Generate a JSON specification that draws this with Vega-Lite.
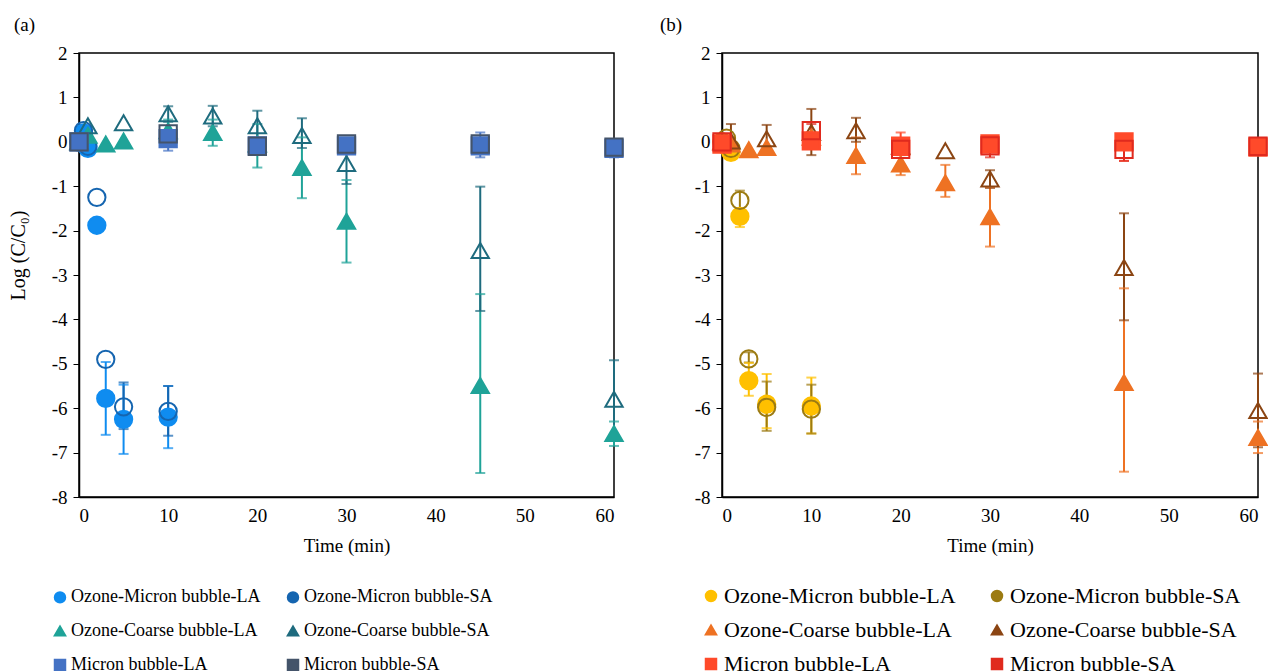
{
  "$schema": "https://vega.github.io/schema/vega-lite/v6.json",
  "padding": {"left": 7, "top": 15, "right": 0, "bottom": 0},
  "background": "white",
  "config": {
    "font": "Liberation Serif",
    "view": {"stroke": "black", "strokeWidth": 1.5},
    "axis": {"grid": false, "domainColor": "black", "domainWidth": 1.5, "tickColor": "black", "labelColor": "black", "titleColor": "black", "labelFont": "Liberation Serif", "titleFont": "Liberation Serif", "labelFontSize": 19, "titleFontSize": 19, "titleFontWeight": "normal"},
    "legend": {"labelFont": "Liberation Serif", "labelColor": "black", "labelLimit": 400, "symbolOpacity": 1},
    "title": {"font": "Liberation Serif", "fontWeight": "normal", "fontSize": 19, "color": "black"}
  },
  "datasets": {
    "d": [
      {"p":"a","s":"Ozone-Micron bubble-LA","t":0,"v":0},
      {"p":"a","s":"Ozone-Micron bubble-LA","t":0.5,"v":0.2},
      {"p":"a","s":"Ozone-Micron bubble-LA","t":1,"v":-0.15},
      {"p":"a","s":"Ozone-Micron bubble-LA","t":2,"v":-1.88},
      {"p":"a","s":"Ozone-Micron bubble-LA","t":3,"v":-5.78,"lo":-6.6,"hi":-4.96},
      {"p":"a","s":"Ozone-Micron bubble-LA","t":5,"v":-6.25,"lo":-7.03,"hi":-5.47},
      {"p":"a","s":"Ozone-Micron bubble-LA","t":10,"v":-6.2,"lo":-6.9,"hi":-5.5},
      {"p":"a","s":"Ozone-Micron bubble-SA","t":0,"v":0},
      {"p":"a","s":"Ozone-Micron bubble-SA","t":0.5,"v":0.25},
      {"p":"a","s":"Ozone-Micron bubble-SA","t":1,"v":-0.1},
      {"p":"a","s":"Ozone-Micron bubble-SA","t":2,"v":-1.25},
      {"p":"a","s":"Ozone-Micron bubble-SA","t":3,"v":-4.9},
      {"p":"a","s":"Ozone-Micron bubble-SA","t":5,"v":-5.97,"lo":-6.47,"hi":-5.42},
      {"p":"a","s":"Ozone-Micron bubble-SA","t":10,"v":-6.07,"lo":-6.62,"hi":-5.5},
      {"p":"a","s":"Ozone-Coarse bubble-LA","t":0,"v":0},
      {"p":"a","s":"Ozone-Coarse bubble-LA","t":1,"v":0.15},
      {"p":"a","s":"Ozone-Coarse bubble-LA","t":3,"v":-0.05},
      {"p":"a","s":"Ozone-Coarse bubble-LA","t":5,"v":0.02},
      {"p":"a","s":"Ozone-Coarse bubble-LA","t":10,"v":0.25,"lo":-0.1,"hi":0.5},
      {"p":"a","s":"Ozone-Coarse bubble-LA","t":15,"v":0.21,"lo":-0.09,"hi":0.5},
      {"p":"a","s":"Ozone-Coarse bubble-LA","t":20,"v":-0.05,"lo":-0.58,"hi":0.4},
      {"p":"a","s":"Ozone-Coarse bubble-LA","t":25,"v":-0.58,"lo":-1.27,"hi":0.1},
      {"p":"a","s":"Ozone-Coarse bubble-LA","t":30,"v":-1.79,"lo":-2.72,"hi":-0.86},
      {"p":"a","s":"Ozone-Coarse bubble-LA","t":45,"v":-5.49,"lo":-7.46,"hi":-3.43},
      {"p":"a","s":"Ozone-Coarse bubble-LA","t":60,"v":-6.57,"lo":-6.85,"hi":-6.3},
      {"p":"a","s":"Ozone-Coarse bubble-SA","t":0,"v":0},
      {"p":"a","s":"Ozone-Coarse bubble-SA","t":1,"v":0.36},
      {"p":"a","s":"Ozone-Coarse bubble-SA","t":5,"v":0.43},
      {"p":"a","s":"Ozone-Coarse bubble-SA","t":10,"v":0.63,"lo":0.45,"hi":0.8},
      {"p":"a","s":"Ozone-Coarse bubble-SA","t":15,"v":0.58,"lo":0.35,"hi":0.81},
      {"p":"a","s":"Ozone-Coarse bubble-SA","t":20,"v":0.36,"lo":0.0,"hi":0.7},
      {"p":"a","s":"Ozone-Coarse bubble-SA","t":25,"v":0.14,"lo":-0.14,"hi":0.53},
      {"p":"a","s":"Ozone-Coarse bubble-SA","t":30,"v":-0.49,"lo":-0.95,"hi":-0.03},
      {"p":"a","s":"Ozone-Coarse bubble-SA","t":45,"v":-2.45,"lo":-3.81,"hi":-1.01},
      {"p":"a","s":"Ozone-Coarse bubble-SA","t":60,"v":-5.8,"lo":-6.68,"hi":-4.92},
      {"p":"a","s":"Micron bubble-LA","t":0,"v":0},
      {"p":"a","s":"Micron bubble-LA","t":10,"v":0.07,"lo":-0.2,"hi":0.2},
      {"p":"a","s":"Micron bubble-LA","t":20,"v":-0.09,"lo":-0.2,"hi":0.05},
      {"p":"a","s":"Micron bubble-LA","t":30,"v":-0.09},
      {"p":"a","s":"Micron bubble-LA","t":45,"v":-0.09,"lo":-0.35,"hi":0.21},
      {"p":"a","s":"Micron bubble-LA","t":60,"v":-0.15,"lo":-0.35,"hi":0.05},
      {"p":"a","s":"Micron bubble-SA","t":0,"v":0},
      {"p":"a","s":"Micron bubble-SA","t":10,"v":0.18},
      {"p":"a","s":"Micron bubble-SA","t":20,"v":-0.1},
      {"p":"a","s":"Micron bubble-SA","t":30,"v":-0.05},
      {"p":"a","s":"Micron bubble-SA","t":45,"v":-0.05},
      {"p":"a","s":"Micron bubble-SA","t":60,"v":-0.12},
      {"p":"b","s":"Ozone-Micron bubble-LA","t":0,"v":0},
      {"p":"b","s":"Ozone-Micron bubble-LA","t":0.5,"v":-0.1},
      {"p":"b","s":"Ozone-Micron bubble-LA","t":1,"v":-0.24},
      {"p":"b","s":"Ozone-Micron bubble-LA","t":2,"v":-1.68,"lo":-1.92,"hi":-1.5},
      {"p":"b","s":"Ozone-Micron bubble-LA","t":3,"v":-5.38,"lo":-5.72,"hi":-4.98},
      {"p":"b","s":"Ozone-Micron bubble-LA","t":5,"v":-5.91,"lo":-6.45,"hi":-5.23},
      {"p":"b","s":"Ozone-Micron bubble-LA","t":10,"v":-5.95,"lo":-6.57,"hi":-5.31},
      {"p":"b","s":"Ozone-Micron bubble-SA","t":0,"v":0},
      {"p":"b","s":"Ozone-Micron bubble-SA","t":0.5,"v":0.08},
      {"p":"b","s":"Ozone-Micron bubble-SA","t":1,"v":-0.15},
      {"p":"b","s":"Ozone-Micron bubble-SA","t":2,"v":-1.32,"lo":-1.5,"hi":-1.1},
      {"p":"b","s":"Ozone-Micron bubble-SA","t":3,"v":-4.89,"lo":-4.97,"hi":-4.74},
      {"p":"b","s":"Ozone-Micron bubble-SA","t":5,"v":-5.98,"lo":-6.51,"hi":-5.4},
      {"p":"b","s":"Ozone-Micron bubble-SA","t":10,"v":-6.02,"lo":-6.57,"hi":-5.47},
      {"p":"b","s":"Ozone-Coarse bubble-LA","t":0,"v":0},
      {"p":"b","s":"Ozone-Coarse bubble-LA","t":1,"v":-0.05},
      {"p":"b","s":"Ozone-Coarse bubble-LA","t":3,"v":-0.18},
      {"p":"b","s":"Ozone-Coarse bubble-LA","t":5,"v":-0.13},
      {"p":"b","s":"Ozone-Coarse bubble-LA","t":10,"v":0.1},
      {"p":"b","s":"Ozone-Coarse bubble-LA","t":15,"v":-0.31,"lo":-0.73,"hi":0.1},
      {"p":"b","s":"Ozone-Coarse bubble-LA","t":20,"v":-0.5,"lo":-0.75,"hi":-0.25},
      {"p":"b","s":"Ozone-Coarse bubble-LA","t":25,"v":-0.92,"lo":-1.24,"hi":-0.52},
      {"p":"b","s":"Ozone-Coarse bubble-LA","t":30,"v":-1.69,"lo":-2.36,"hi":-1.02},
      {"p":"b","s":"Ozone-Coarse bubble-LA","t":45,"v":-5.42,"lo":-7.43,"hi":-3.3},
      {"p":"b","s":"Ozone-Coarse bubble-LA","t":60,"v":-6.66,"lo":-7.01,"hi":-6.3},
      {"p":"b","s":"Ozone-Coarse bubble-SA","t":0,"v":0},
      {"p":"b","s":"Ozone-Coarse bubble-SA","t":1,"v":0.02,"lo":-0.36,"hi":0.4},
      {"p":"b","s":"Ozone-Coarse bubble-SA","t":5,"v":0.07,"lo":-0.24,"hi":0.38},
      {"p":"b","s":"Ozone-Coarse bubble-SA","t":10,"v":0.21,"lo":-0.3,"hi":0.74},
      {"p":"b","s":"Ozone-Coarse bubble-SA","t":15,"v":0.25,"lo":0.0,"hi":0.54},
      {"p":"b","s":"Ozone-Coarse bubble-SA","t":20,"v":-0.1},
      {"p":"b","s":"Ozone-Coarse bubble-SA","t":25,"v":-0.2},
      {"p":"b","s":"Ozone-Coarse bubble-SA","t":30,"v":-0.84,"lo":-1.04,"hi":-0.64},
      {"p":"b","s":"Ozone-Coarse bubble-SA","t":45,"v":-2.83,"lo":-4.02,"hi":-1.61},
      {"p":"b","s":"Ozone-Coarse bubble-SA","t":60,"v":-6.05,"lo":-6.88,"hi":-5.22},
      {"p":"b","s":"Micron bubble-LA","t":0,"v":-0.05},
      {"p":"b","s":"Micron bubble-LA","t":10,"v":0.02},
      {"p":"b","s":"Micron bubble-LA","t":20,"v":-0.1,"lo":-0.3,"hi":0.21},
      {"p":"b","s":"Micron bubble-LA","t":30,"v":-0.05},
      {"p":"b","s":"Micron bubble-LA","t":45,"v":0.0,"lo":-0.43,"hi":0.1},
      {"p":"b","s":"Micron bubble-LA","t":60,"v":-0.12},
      {"p":"b","s":"Micron bubble-SA","t":0,"v":0},
      {"p":"b","s":"Micron bubble-SA","t":10,"v":0.25,"lo":0.05,"hi":0.4},
      {"p":"b","s":"Micron bubble-SA","t":20,"v":-0.17},
      {"p":"b","s":"Micron bubble-SA","t":30,"v":-0.09,"lo":-0.35,"hi":0.1},
      {"p":"b","s":"Micron bubble-SA","t":45,"v":-0.17,"lo":-0.43,"hi":0.05},
      {"p":"b","s":"Micron bubble-SA","t":60,"v":-0.1}
    ]
  },
  "spacing": 31,
  "resolve": {"scale": {"color": "independent", "fill": "independent", "shape": "independent"}},
  "hconcat": [
    {
      "width": 535,
      "height": 444,
      "title": {"text": "(a)", "anchor": "start", "frame": "group", "dx": -65, "offset": 9},
      "data": {"name": "d"},
      "transform": [{"filter": "datum.p === 'a'"}],
      "encoding": {
        "x": {"field": "t", "type": "quantitative", "scale": {"domain": [0, 60], "nice": false}, "axis": {"values": [0,10,20,30,40,50,60], "ticks": false, "labelPadding": 9, "title": "Time (min)", "titlePadding": 11}},
        "color": {"field": "s", "type": "nominal", "scale": {"domain": ["Ozone-Micron bubble-LA","Ozone-Coarse bubble-LA","Micron bubble-LA","Ozone-Micron bubble-SA","Ozone-Coarse bubble-SA","Micron bubble-SA"], "range": ["#0F8CF0","#1FA398","#4472C4","#1565B0","#1E6B7E","#44546A"]},
          "legend": {"title": null, "orient": "none", "legendX": -28, "legendY": 535, "columns": 2, "labelFontSize": 18, "symbolSize": 110, "symbolStrokeWidth": 2, "rowPadding": 15, "columnPadding": 22, "labelOffset": 2,
            "symbolFillColor": {"expr": "indexof(datum.value, '-SA') >= 0 ? 'transparent' : datum.value === 'Ozone-Micron bubble-LA' ? '#0F8CF0' : datum.value === 'Ozone-Coarse bubble-LA' ? '#1FA398' : '#4472C4'"}}}
      },
      "layer": [
        {
          "transform": [{"filter": "isValid(datum.lo)"}],
          "mark": {"type": "rule", "strokeWidth": 2},
          "encoding": {"y": {"field": "lo", "type": "quantitative"}, "y2": {"field": "hi"}}
        },
        {
          "transform": [{"filter": "isValid(datum.lo)"}],
          "mark": {"type": "tick", "orient": "horizontal", "size": 10, "thickness": 2},
          "encoding": {"y": {"field": "lo", "type": "quantitative"}}
        },
        {
          "transform": [{"filter": "isValid(datum.lo)"}],
          "mark": {"type": "tick", "orient": "horizontal", "size": 10, "thickness": 2},
          "encoding": {"y": {"field": "hi", "type": "quantitative"}}
        },
        {
          "mark": {"type": "point", "size": 300, "strokeWidth": 2, "opacity": 1, "filled": false},
          "encoding": {
            "y": {"field": "v", "type": "quantitative", "scale": {"domain": [-8, 2], "nice": false}, "axis": {"values": [-8,-7,-6,-5,-4,-3,-2,-1,0,1,2], "labelExpr": "'' + datum.value", "tickSize": 6, "labelPadding": 6, "title": "Log (C/C₀)", "titleFontSize": 20, "titleX": -61, "titleY": 202, "titleAngle": -90, "titleAlign": "center", "titleBaseline": "middle"}},
            "fill": {"field": "s", "type": "nominal", "scale": {"domain": ["Ozone-Micron bubble-LA","Ozone-Coarse bubble-LA","Micron bubble-LA","Ozone-Micron bubble-SA","Ozone-Coarse bubble-SA","Micron bubble-SA"], "range": ["#0F8CF0","#1FA398","#4472C4","transparent","transparent","transparent"]}, "legend": null},
            "shape": {"field": "s", "type": "nominal", "scale": {"domain": ["Ozone-Micron bubble-LA","Ozone-Coarse bubble-LA","Micron bubble-LA","Ozone-Micron bubble-SA","Ozone-Coarse bubble-SA","Micron bubble-SA"], "range": ["circle","triangle-up","square","circle","triangle-up","square"]},
              "legend": {"title": null, "orient": "none", "legendX": -28, "legendY": 535, "columns": 2, "labelFontSize": 18, "symbolSize": 110, "symbolStrokeWidth": 2, "rowPadding": 15, "columnPadding": 22, "labelOffset": 2,
                "symbolFillColor": {"expr": "indexof(datum.value, '-SA') >= 0 ? 'transparent' : datum.value === 'Ozone-Micron bubble-LA' ? '#0F8CF0' : datum.value === 'Ozone-Coarse bubble-LA' ? '#1FA398' : '#4472C4'"}}}
          }
        }
      ]
    },
    {
      "width": 536,
      "height": 444,
      "title": {"text": "(b)", "anchor": "start", "frame": "group", "dx": -62, "offset": 9},
      "data": {"name": "d"},
      "transform": [{"filter": "datum.p === 'b'"}],
      "encoding": {
        "x": {"field": "t", "type": "quantitative", "scale": {"domain": [0, 60], "nice": false}, "axis": {"values": [0,10,20,30,40,50,60], "ticks": false, "labelPadding": 9, "title": "Time (min)", "titlePadding": 11}},
        "color": {"field": "s", "type": "nominal", "scale": {"domain": ["Ozone-Micron bubble-LA","Ozone-Coarse bubble-LA","Micron bubble-LA","Ozone-Micron bubble-SA","Ozone-Coarse bubble-SA","Micron bubble-SA"], "range": ["#FFC000","#EE7223","#FF4A2A","#9C7B12","#8B4513","#E02A1E"]},
          "legend": {"title": null, "orient": "none", "legendX": -22, "legendY": 532, "columns": 2, "labelFontSize": 22, "symbolSize": 110, "symbolStrokeWidth": 2, "rowPadding": 12, "columnPadding": 30, "labelOffset": 2,
            "symbolFillColor": {"expr": "indexof(datum.value, '-SA') >= 0 ? 'transparent' : datum.value === 'Ozone-Micron bubble-LA' ? '#FFC000' : datum.value === 'Ozone-Coarse bubble-LA' ? '#EE7223' : '#FF4A2A'"}}}
      },
      "layer": [
        {
          "transform": [{"filter": "isValid(datum.lo)"}],
          "mark": {"type": "rule", "strokeWidth": 2},
          "encoding": {"y": {"field": "lo", "type": "quantitative"}, "y2": {"field": "hi"}}
        },
        {
          "transform": [{"filter": "isValid(datum.lo)"}],
          "mark": {"type": "tick", "orient": "horizontal", "size": 10, "thickness": 2},
          "encoding": {"y": {"field": "lo", "type": "quantitative"}}
        },
        {
          "transform": [{"filter": "isValid(datum.lo)"}],
          "mark": {"type": "tick", "orient": "horizontal", "size": 10, "thickness": 2},
          "encoding": {"y": {"field": "hi", "type": "quantitative"}}
        },
        {
          "mark": {"type": "point", "size": 300, "strokeWidth": 2, "opacity": 1, "filled": false},
          "encoding": {
            "y": {"field": "v", "type": "quantitative", "scale": {"domain": [-8, 2], "nice": false}, "axis": {"values": [-8,-7,-6,-5,-4,-3,-2,-1,0,1,2], "labelExpr": "'' + datum.value", "tickSize": 6, "labelPadding": 6, "title": null}},
            "fill": {"field": "s", "type": "nominal", "scale": {"domain": ["Ozone-Micron bubble-LA","Ozone-Coarse bubble-LA","Micron bubble-LA","Ozone-Micron bubble-SA","Ozone-Coarse bubble-SA","Micron bubble-SA"], "range": ["#FFC000","#EE7223","#FF4A2A","transparent","transparent","transparent"]}, "legend": null},
            "shape": {"field": "s", "type": "nominal", "scale": {"domain": ["Ozone-Micron bubble-LA","Ozone-Coarse bubble-LA","Micron bubble-LA","Ozone-Micron bubble-SA","Ozone-Coarse bubble-SA","Micron bubble-SA"], "range": ["circle","triangle-up","square","circle","triangle-up","square"]},
              "legend": {"title": null, "orient": "none", "legendX": -22, "legendY": 532, "columns": 2, "labelFontSize": 22, "symbolSize": 110, "symbolStrokeWidth": 2, "rowPadding": 12, "columnPadding": 30, "labelOffset": 2,
                "symbolFillColor": {"expr": "indexof(datum.value, '-SA') >= 0 ? 'transparent' : datum.value === 'Ozone-Micron bubble-LA' ? '#FFC000' : datum.value === 'Ozone-Coarse bubble-LA' ? '#EE7223' : '#FF4A2A'"}}}
          }
        }
      ]
    }
  ]
}
